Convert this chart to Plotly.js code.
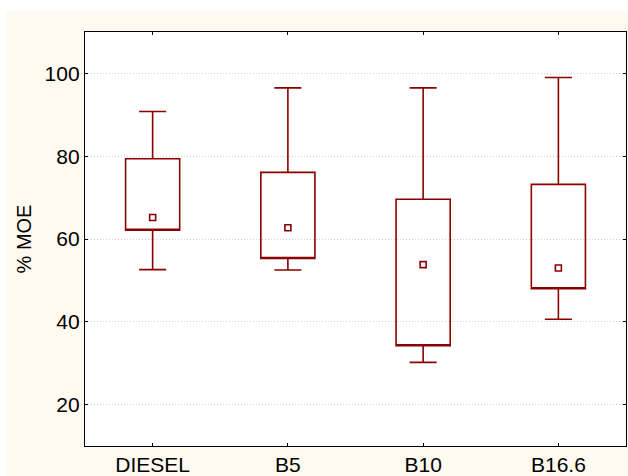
<!DOCTYPE html>
<html>
<head>
<meta charset="utf-8">
<script src="https://cdn.plot.ly/plotly-3.0.1.min.js"></script>
<style>html,body{margin:0;padding:0;background:#fff;}#chart{width:628px;height:476px;}</style>
</head>
<body>
<div id="chart"></div>
<script>
// Data (Median; Box 25%-75%; Whisker: non-outlier range)
var categories = ["DIESEL", "B5", "B10", "B16.6"];
var medians    = [65.2, 62.7, 53.8, 53.0];
var q1         = [62.1, 55.3, 34.2, 48.0];
var q3         = [79.4, 76.1, 69.6, 73.2];
var lowerWhisk = [52.6, 52.5, 30.2, 40.6];
var upperWhisk = [90.8, 96.5, 96.5, 99.0];
var yTicks     = [20, 40, 60, 80, 100];

var red = "#8b0000";
var tickFont = {family: "Liberation Sans, Arial, sans-serif", size: 21, color: "#000"};
var titleFont = {family: "Liberation Sans, Arial, sans-serif", size: 20, color: "#000"};

var boxTrace = {
  type: "box",
  x: categories,
  q1: q1,
  q3: q3,
  median: q1,            // median shown as a square marker instead of a line
  lowerfence: lowerWhisk,
  upperfence: upperWhisk,
  width: 0.4,
  whiskerwidth: 0.5,
  fillcolor: "rgba(0,0,0,0)",
  line: {color: red, width: 1.6},
  boxpoints: false,
  hoverinfo: "skip",
  showlegend: false
};

var medianTrace = {
  type: "scatter",
  mode: "markers",
  x: categories,
  y: medians,
  marker: {symbol: "square", size: 6, color: "#fff", line: {color: red, width: 1.6}},
  showlegend: false
};

var layout = {
  width: 628, height: 476,
  margin: {l: 85, r: 2, t: 32, b: 30, pad: 0},
  paper_bgcolor: "#ffffff",
  plot_bgcolor: "rgba(0,0,0,0)",
  font: tickFont,
  showlegend: false,
  shapes: [
    {type: "rect", xref: "paper", yref: "paper", layer: "below",
     x0: -0.146, x1: 1.004, y0: -0.08, y1: 1.0507,
     fillcolor: "#fffaf0", line: {width: 0}},
    {type: "rect", xref: "paper", yref: "paper", layer: "below",
     x0: 0, x1: 1, y0: 0, y1: 1,
     fillcolor: "#ffffff", line: {width: 0}}
  ],
  xaxis: {
    type: "category",
    range: [-0.5, 3.5],
    showline: true, linecolor: "#000", linewidth: 1.2, mirror: "ticks",
    ticks: "inside", ticklen: 3, tickcolor: "#000",
    showgrid: false, zeroline: false,
    tickfont: tickFont
  },
  yaxis: {
    range: [10, 110],
    tickvals: yTicks,
    showline: true, linecolor: "#000", linewidth: 1.2, mirror: "ticks",
    ticks: "inside", ticklen: 3, tickcolor: "#000",
    showgrid: true, gridcolor: "#d4d4d4", griddash: "1px,2px", gridwidth: 1,
    zeroline: false,
    tickfont: tickFont,
    title: {text: "% MOE", font: titleFont, standoff: 7}
  }
};

Plotly.newPlot("chart", [boxTrace, medianTrace], layout, {displayModeBar: false, staticPlot: true});
</script>
</body>
</html>
